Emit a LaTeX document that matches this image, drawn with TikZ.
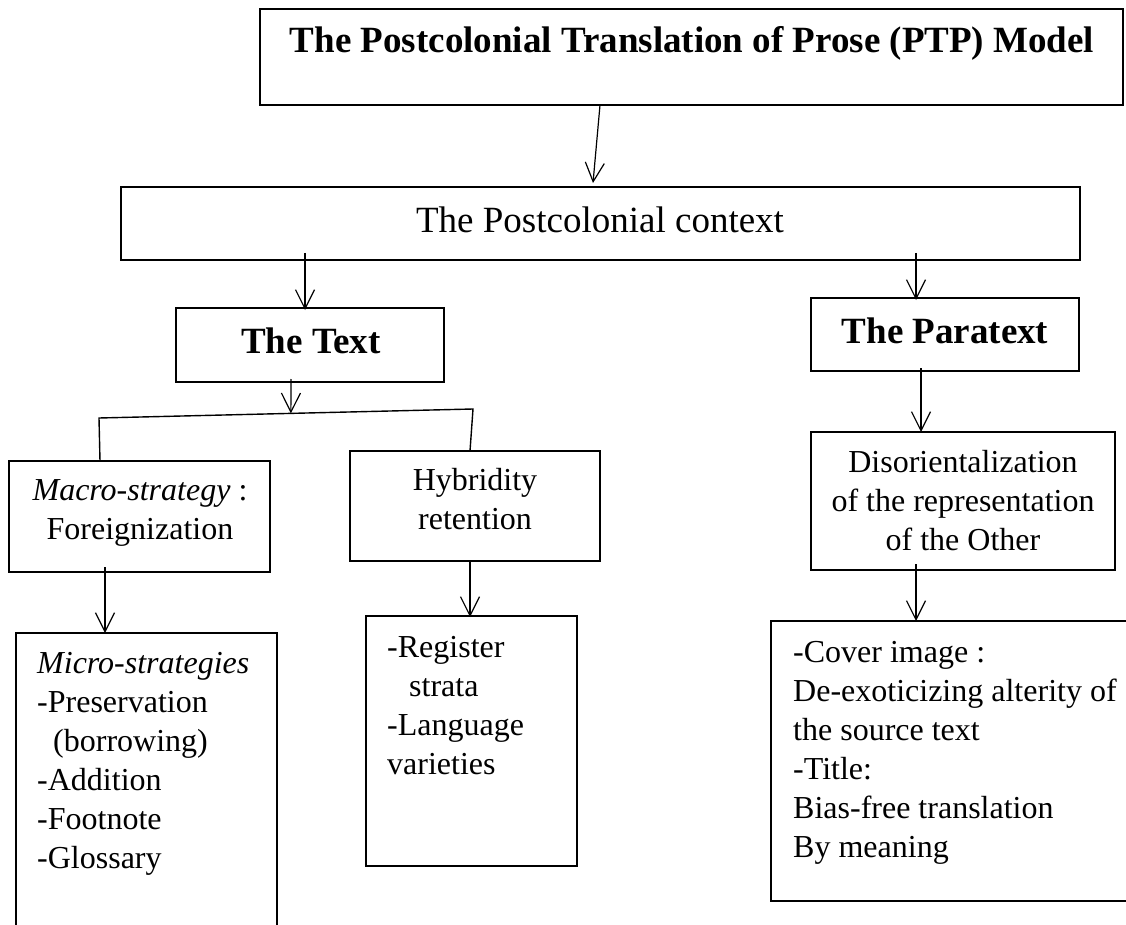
\documentclass[tikz,border=0pt]{standalone}
\usepackage{fontspec}
\setmainfont{Liberation Serif}
\usetikzlibrary{arrows.meta,calc}
\begin{document}
\begin{tikzpicture}[x=1pt,y=-1pt,
  box/.style={draw, line width=1.6pt, inner sep=0pt, outer sep=0pt, anchor=north west},
  big/.style={font=\fontsize{37}{44}\selectfont, inner sep=0pt},
  small/.style={font=\fontsize{32}{39}\selectfont, inner sep=0pt},
  arr/.style={line width=1.2pt, -{Straight Barb[length=19pt,width=19pt,line width=1.2pt]}},
  conn/.style={line width=1.4pt}]
\useasboundingbox (0,0) rectangle (1126,925);
\clip (0,0) rectangle (1126,925);
% boxes
\node[box, minimum width=863pt, minimum height=96pt] (title) at (260,9) {};
\node[box, minimum width=959pt, minimum height=73pt] (ctx) at (121,187) {};
\node[box, minimum width=268pt, minimum height=74pt] (text) at (176,308) {};
\node[box, minimum width=268pt, minimum height=73pt] (para) at (811,298) {};
\node[box, minimum width=261pt, minimum height=111pt] (macro) at (9,461) {};
\node[box, minimum width=250pt, minimum height=110pt] (hyb) at (350,451) {};
\node[box, minimum width=304pt, minimum height=138pt] (dis) at (811,432) {};
\node[box, minimum width=261pt, minimum height=310pt] (micro) at (16,633) {};
\node[box, minimum width=211pt, minimum height=250pt] (reg) at (366,616) {};
\node[box, minimum width=370pt, minimum height=280pt] (cover) at (771,621) {};
% texts
\node[big, anchor=base] (titlet) at (692,53) {\bfseries The Postcolonial Translation of Prose (PTP) Model};
\node[big, anchor=base] (ctxt) at (600,233) {The Postcolonial context};
\node[big, anchor=base] (textt) at (311,353) {\bfseries The Text};
\node[big, anchor=base] (parat) at (945,343) {\bfseries The Paratext};
\node[small, align=center, anchor=north] (macrot) at (140,470) {\rule{0pt}{30pt}\textit{Macro-strategy} :\\Foreignization};
\node[small, align=center, anchor=north] (hybt) at (475,460) {\rule{0pt}{30pt}Hybridity\\retention};
\node[small, align=center, anchor=north] (dist) at (963,442) {\rule{0pt}{30pt}Disorientalization\\of the representation\\of the Other};
\node[small, align=left, anchor=north west] (microt) at (37,643) {\rule{0pt}{30pt}\textit{Micro-strategies}\\-Preservation\\\hspace*{16pt}(borrowing)\\-Addition\\-Footnote\\-Glossary};
\node[small, align=left, anchor=north west] (regt) at (387,627) {\rule{0pt}{30pt}-Register\\\hspace*{22pt}strata\\-Language\\varieties};
\node[small, align=left, anchor=north west] (covert) at (793,632) {\rule{0pt}{30pt}-Cover image :\\De-exoticizing alterity of\\the source text\\-Title:\\Bias-free translation\\By meaning};
% branch points
\coordinate (bl) at (99,418);
\coordinate (br) at (473,409);
% connectors
\draw[arr] ($(title.south west)+(340,0)$) -- ($(ctx.north west)+(472,-4)$);
\draw[arr] ($(ctx.south west)+(184,-7)$) -- ($(text.north west)+(129,2)$);
\draw[arr] ($(ctx.south west)+(795,-7)$) -- ($(para.north west)+(105,2)$);
\draw[arr] ($(text.south west)+(115,-3)$) -- ($(bl)!0.513!(br)$);
\draw[conn] ($(macro.north west)+(91,0)$) -- (bl) -- (br) -- ($(hyb.north west)+(120,0)$);
\draw[arr] ($(para.south west)+(110,-3)$) -- ($(dis.north west)+(110,0)$);
\draw[arr] ($(macro.south west)+(96,-5)$) -- ($(micro.north west)+(89,0)$);
\draw[arr] ($(hyb.south west)+(120,0)$) -- ($(reg.north west)+(104,1)$);
\draw[arr] ($(dis.south west)+(105,-6)$) -- ($(cover.north west)+(145,0)$);
\end{tikzpicture}
\end{document}
